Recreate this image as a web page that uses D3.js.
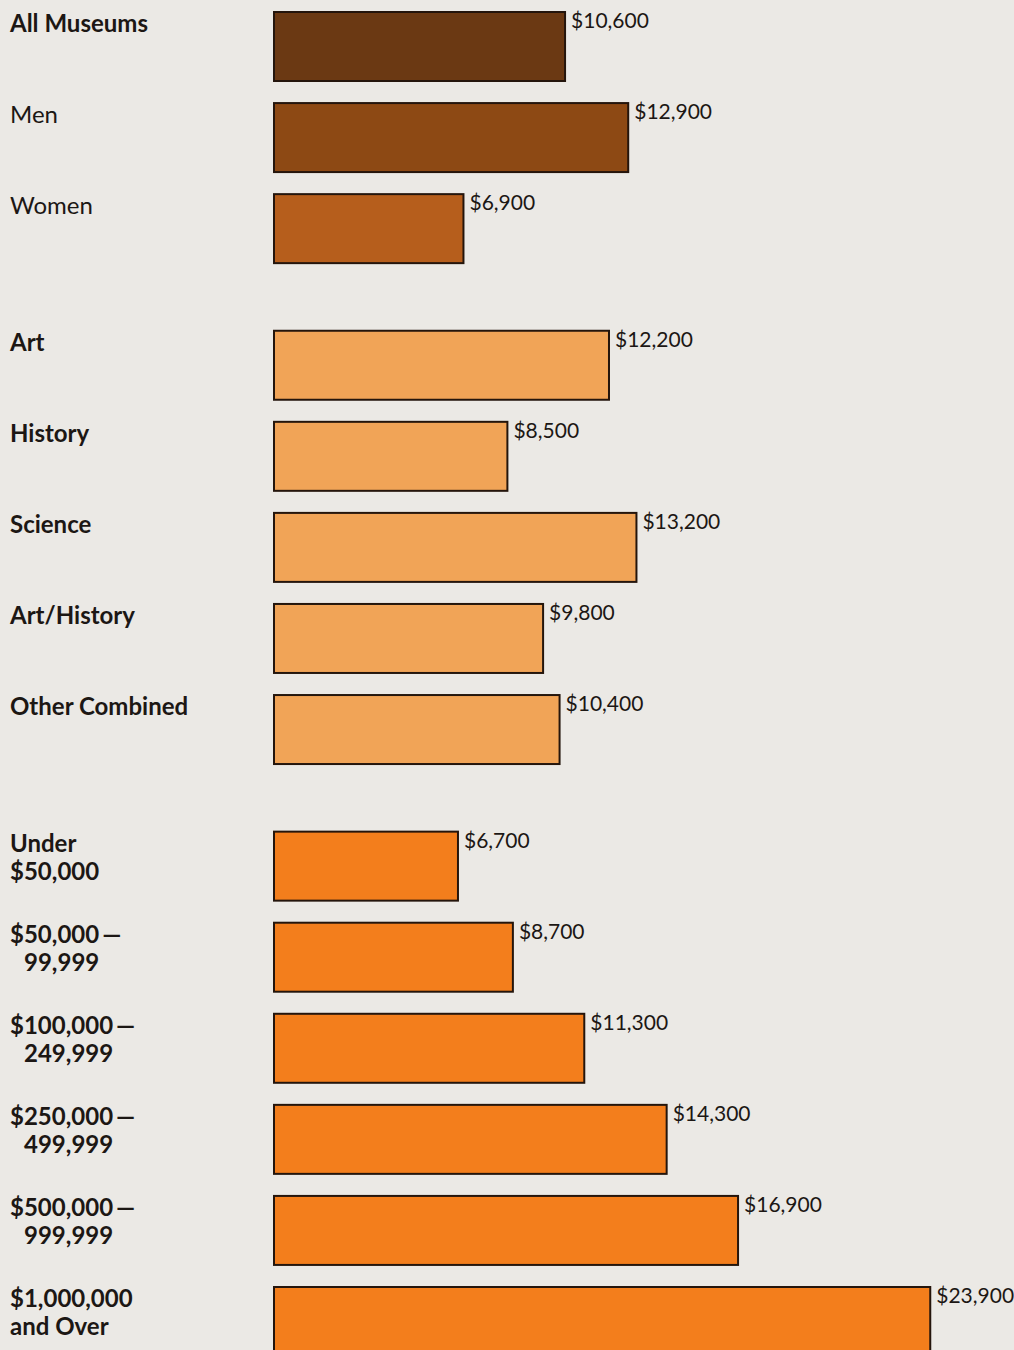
<!DOCTYPE html>
<html>
<head>
<meta charset="utf-8">
<script src="https://cdn.jsdelivr.net/npm/d3@7"></script>
<style>
  html, body { margin: 0; padding: 0; background: #ebe9e5; }
  svg { display: block; }
</style>
</head>
<body>
<script>
// Average salaries, by staff group, museum type and annual budget
const groupA = ["All Museums", "Men", "Women"];
const groupB = ["Art", "History", "Science", "Art/History", "Other Combined"];
const groupC = ["Under\n$50,000", "$50,000\u2009\u2014\n 99,999", "$100,000\u2009\u2014\n 249,999",
                "$250,000\u2009\u2014\n 499,999", "$500,000\u2009\u2014\n 999,999", "$1,000,000\nand Over"];

const valuesA = [10600, 12900, 6900];
const valuesB = [12200, 8500, 13200, 9800, 10400];
const valuesC = [6700, 8700, 11300, 14300, 16900, 23900];

const boldA = [true, false, false];

const colorsA = ["#6b3913", "#8d4914", "#b65e1c"];
const colorB = "#f1a457";
const colorC = "#f37e1c";

const W = 1014, H = 1350;

// Build rows; each group starts half a step below the previous one
const rows = [];
[[groupA, valuesA], [groupB, valuesB], [groupC, valuesC]].forEach(([cats, vals], g) => {
  cats.forEach((c, i) => {
    rows.push({
      label: c, value: vals[i], group: g,
      slot: rows.length + g * 0.5,
      bold: g === 0 ? boldA[i] : true,
      color: g === 0 ? colorsA[i] : (g === 1 ? colorB : colorC)
    });
  });
});

const x = d3.scaleLinear().domain([0, 24000]).range([274, 933]);
const y = d3.scaleLinear().domain([0, 14]).range([12, 1287]);
const barH = 69;

const svg = d3.select("body").append("svg").attr("width", W).attr("height", H);

svg.append("rect").attr("width", W).attr("height", H).attr("fill", "#ebe9e5");

const row = svg.selectAll("g.row").data(rows).join("g").attr("class", "row");

row.append("rect")
  .attr("x", x(0))
  .attr("y", d => y(d.slot))
  .attr("width", d => x(d.value) - x(0))
  .attr("height", barH)
  .attr("fill", d => d.color)
  .attr("stroke", "#24150c")
  .attr("stroke-width", 2);

const fmt = d3.format("$,");

row.append("text")
  .attr("x", d => x(d.value) + 6)
  .attr("y", d => y(d.slot) + 16)
  .attr("font-family", "Lato, 'Open Sans', sans-serif")
  .attr("font-size", 21)
  .attr("fill", "#1c1714")
  .text(d => fmt(d.value));

const lbl = row.append("text")
  .attr("x", 10)
  .attr("y", d => y(d.slot) + 20)
  .attr("font-family", "Lato, 'Open Sans', sans-serif")
  .attr("font-size", 24)
  .attr("font-weight", d => d.bold ? 700 : 400)
  .attr("fill", "#1c1714");

lbl.selectAll("tspan")
  .data(d => d.label.split("\n"))
  .join("tspan")
  .attr("x", s => s.startsWith(" ") ? 24 : 10)
  .attr("dy", (s, i) => i === 0 ? 0 : 28)
  .text(s => s.trim());
</script>
</body>
</html>
